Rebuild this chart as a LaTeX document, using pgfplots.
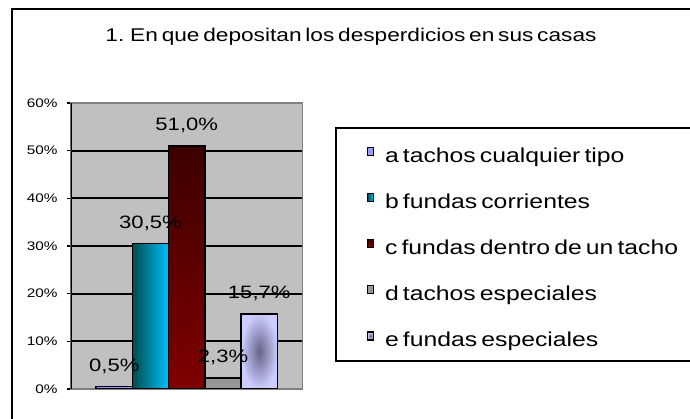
\documentclass[border=0pt]{standalone}
\usepackage{fontspec}
\setmainfont{Liberation Sans}[FakeStretch=1.23, WordSpace=0.6]
\usepackage{pgfplots}
\pgfplotsset{compat=1.18}
\definecolor{bga}{HTML}{9999FF}
\definecolor{bgd}{HTML}{969696}
\definecolor{plotbg}{HTML}{C0C0C0}
\definecolor{frm}{HTML}{808080}
\begin{document}
\begin{tikzpicture}
\useasboundingbox (-78bp,-30bp) rectangle (612bp,389bp);
\draw[black, line width=1.5bp] (-66bp,380bp) rectangle (625bp,-40bp);
\draw[black, line width=1.5bp] (258bp,261bp) rectangle (615bp,28bp);
\node[anchor=base, inner sep=0pt, font=\fontsize{18.5}{21}\selectfont] at (273bp,347.3bp) {1. En que depositan los desperdicios en sus casas};
\begin{axis}[
  at={(0,0)}, anchor=origin,
  scale only axis, width=232bp, height=286bp,
  xmin=-0.2, xmax=6.2, ymin=0, ymax=60,
  ytick={0,10,...,60}, xtick=\empty, ytick pos=left,
  yticklabel={\pgfmathprintnumber{\tick}\%},
  yticklabel style={font=\fontsize{12.5}{14}\selectfont, inner sep=0pt, xshift=-9bp},
  /pgf/number format/assume math mode=true,
  tick align=outside, major tick length=4bp,
  ytick style={black, line width=1.2bp},
  ymajorgrids, major grid style={black, line width=2bp},
  axis background/.style={fill=plotbg},
  axis line style={frm, line width=1.2bp},
  ybar, bar width=1,
  legend cell align=left,
  legend style={at={(axis description cs:1.2755,0.847)}, anchor=north west, draw=none, fill=none,
    inner sep=0pt, row sep=26bp, font=\fontsize{20.2}{23}\selectfont,
    nodes={inner sep=0pt, text height=15bp, text depth=5bp},
    /tikz/every odd column/.append style={column sep=11bp}},
  legend image code/.code={\draw[#1, draw=black, line width=1.2bp] (0bp,1.5bp) rectangle (6bp,9.5bp);},
  every node near coord/.append style={anchor=base, yshift=15.5bp, inner sep=0pt, font=\fontsize{18}{21}\selectfont, black},
]
\addplot[bar shift=0pt, fill=bga, draw=black, line width=1.5bp] coordinates {(1,0.5)};
\addlegendentry{a tachos cualquier tipo}
\addplot[bar shift=0pt, left color=teal!60!black, right color=cyan!75!blue, draw=black, line width=1.5bp] coordinates {(2,30.5)};
\addlegendentry{b fundas corrientes}
\addplot[bar shift=0pt, top color={rgb,255:red,60;green,0;blue,0}, bottom color={rgb,255:red,128;green,0;blue,0}, draw=black, line width=1.5bp] coordinates {(3,51.0)};
\addlegendentry{c fundas dentro de un tacho}
\addplot[bar shift=0pt, fill=bgd, draw=black, line width=1.5bp] coordinates {(4,2.3)};
\addlegendentry{d tachos especiales}
\addplot[bar shift=0pt, shading=radial, inner color={rgb,255:red,100;green,100;blue,136}, outer color={rgb,255:red,204;green,204;blue,255}, draw=black, line width=1.5bp] coordinates {(5,15.7)};
\addlegendentry{e fundas especiales}
\addplot[bar shift=0pt, draw=none, fill=none, forget plot,
  nodes near coords={\pgfmathprintnumber[fixed, zerofill, precision=1, use comma]{\pgfplotspointmeta}\%}]
  coordinates {(1,0.5) (2,30.5) (3,51.0) (4,2.3) (5,15.7)};
\draw[black, line width=1.5bp] (rel axis cs:0,0) -- (rel axis cs:0,1);
\end{axis}
\end{tikzpicture}
\end{document}
